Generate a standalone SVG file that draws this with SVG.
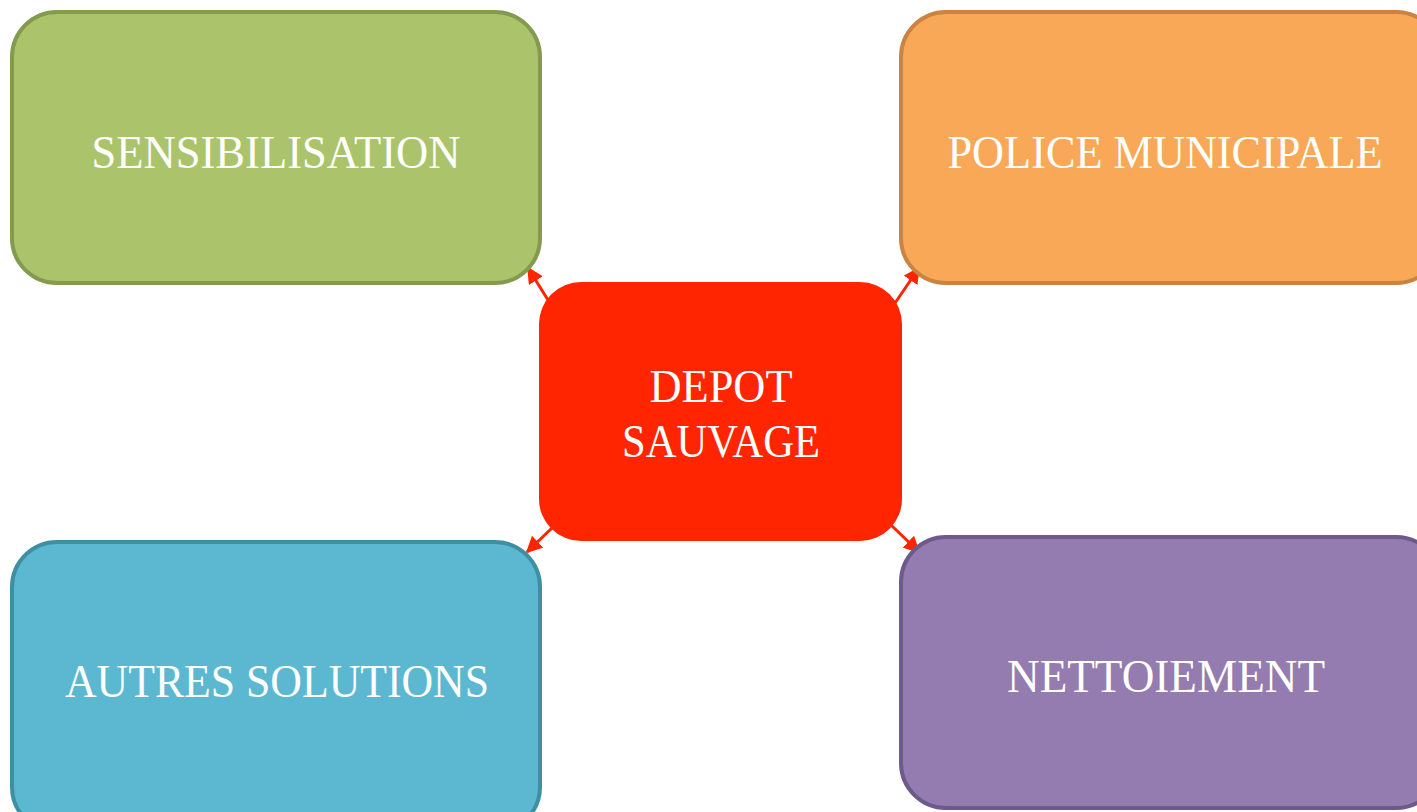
<svg xmlns="http://www.w3.org/2000/svg" width="1417" height="812" viewBox="0 0 1417 812">
<style>
.box{stroke-width:4}
.lbl{font-family:"Liberation Serif","DejaVu Serif",serif;font-size:46px;fill:#ffffff;text-anchor:middle}
.conn{stroke:#ff2500;stroke-width:3;fill:none}
</style>
<defs>
<marker id="ah" viewBox="0 0 10 10" refX="9" refY="5" markerWidth="5.5" markerHeight="5.5" orient="auto" markerUnits="strokeWidth">
<path d="M0,0 L10,5 L0,10 z" fill="#ff2500"/>
</marker>
</defs>
<rect width="1417" height="812" fill="#ffffff"/>
<g id="connectors">
<line class="conn" x1="548" y1="300" x2="528" y2="268" marker-end="url(#ah)"/>
<line class="conn" x1="895" y1="303" x2="919" y2="268" marker-end="url(#ah)"/>
<line class="conn" x1="553" y1="527" x2="527" y2="552" marker-end="url(#ah)"/>
<line class="conn" x1="891" y1="525" x2="919" y2="552" marker-end="url(#ah)"/>
</g>
<g id="sensibilisation">
<rect class="box" x="12" y="12" width="528" height="271" rx="45" fill="#abc46b" stroke="#839a4f"/>
<text class="lbl" x="276" y="168" textLength="369" lengthAdjust="spacingAndGlyphs">SENSIBILISATION</text>
</g>
<g id="police">
<rect class="box" x="901" y="12" width="540" height="271" rx="45" fill="#f9a857" stroke="#c98443"/>
<text class="lbl" x="1165" y="168" textLength="435" lengthAdjust="spacingAndGlyphs">POLICE MUNICIPALE</text>
</g>
<g id="autres">
<rect class="box" x="12" y="542" width="528" height="290" rx="45" fill="#5bb8d0" stroke="#3f8fa3"/>
<text class="lbl" x="277" y="697" textLength="424" lengthAdjust="spacingAndGlyphs">AUTRES SOLUTIONS</text>
</g>
<g id="nettoiement">
<rect class="box" x="901" y="537" width="540" height="271" rx="45" fill="#947cb0" stroke="#6d5a8a"/>
<text class="lbl" x="1166" y="692" textLength="318" lengthAdjust="spacingAndGlyphs">NETTOIEMENT</text>
</g>
<g id="depot">
<rect x="539" y="282" width="363" height="259" rx="42" fill="#ff2500"/>
<text class="lbl" x="721" y="402" textLength="143" lengthAdjust="spacingAndGlyphs">DEPOT</text>
<text class="lbl" x="721" y="457" textLength="198" lengthAdjust="spacingAndGlyphs">SAUVAGE</text>
</g>
</svg>
